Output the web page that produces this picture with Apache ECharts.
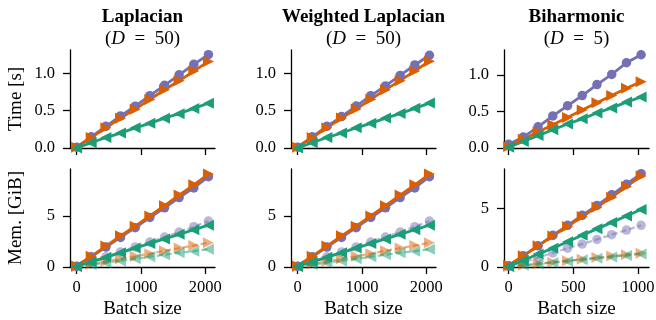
<!DOCTYPE html>
<html>
<head>
<meta charset="utf-8">
<script src="https://cdn.jsdelivr.net/npm/echarts@6/dist/echarts.min.js"></script>
<style>
html,body{margin:0;padding:0;background:#fff;}
#c{width:656px;height:320px;}
</style>
</head>
<body>
<div id="c"></div>
<script>
// ---- data ----
const xLap = [1, 228, 456, 683, 911, 1138, 1366, 1593, 1821, 2048];
const xBih = [1, 114, 228, 342, 456, 569, 683, 797, 911, 1024];

const titles = ["Laplacian", "Weighted Laplacian", "Biharmonic"];
const dimLabels = ["50", "50", "5"];
const rowLabels = ["Time [s]", "Mem. [GiB]"];

// Time [s]
const lapTimePurple = [0.01, 0.15, 0.29, 0.43, 0.56, 0.70, 0.84, 0.98, 1.12, 1.25];
const lapTimeOrange = [0.01, 0.14, 0.27, 0.40, 0.52, 0.65, 0.78, 0.90, 1.03, 1.16];
const lapTimeGreen  = [0.00, 0.07, 0.14, 0.20, 0.27, 0.33, 0.40, 0.46, 0.53, 0.60];

const wlapTimePurple = [0.01, 0.15, 0.29, 0.42, 0.56, 0.70, 0.83, 0.97, 1.11, 1.24];
const wlapTimeOrange = [0.01, 0.14, 0.27, 0.40, 0.52, 0.65, 0.78, 0.90, 1.03, 1.16];
const wlapTimeGreen  = [0.00, 0.07, 0.14, 0.20, 0.27, 0.33, 0.40, 0.46, 0.53, 0.60];

const bihTimePurple = [0.05, 0.15, 0.29, 0.44, 0.58, 0.72, 0.87, 1.01, 1.17, 1.28];
const bihTimeOrange = [0.02, 0.12, 0.22, 0.32, 0.42, 0.52, 0.62, 0.72, 0.82, 0.91];
const bihTimeGreen  = [0.01, 0.09, 0.17, 0.25, 0.33, 0.40, 0.48, 0.55, 0.63, 0.70];

// Memory [GiB] (solid)
const lapMemPurple = [0.08, 1.00, 1.95, 2.90, 3.85, 4.85, 5.80, 6.80, 7.75, 8.85];
const lapMemOrange = [0.10, 1.05, 2.05, 3.05, 4.00, 5.00, 6.00, 7.05, 8.05, 9.10];
const lapMemGreen  = [0.05, 0.50, 0.95, 1.40, 1.85, 2.30, 2.75, 3.20, 3.65, 4.10];
// Memory [GiB] (dashed, faded)
const lapMem2Purple = [0.05, 0.52, 1.00, 1.48, 1.97, 2.45, 2.93, 3.42, 3.95, 4.50];
const lapMem2Orange = [0.03, 0.30, 0.55, 0.80, 1.05, 1.30, 1.60, 1.85, 2.10, 2.37];
const lapMem2Green  = [0.02, 0.22, 0.42, 0.60, 0.80, 1.00, 1.20, 1.40, 1.55, 1.75];

const wlapMemPurple = [0.08, 1.00, 1.95, 2.90, 3.85, 4.85, 5.80, 6.80, 7.75, 8.85];
const wlapMemOrange = [0.10, 1.05, 2.05, 3.05, 4.00, 5.00, 6.00, 7.05, 8.05, 9.10];
const wlapMemGreen  = [0.05, 0.50, 0.95, 1.40, 1.85, 2.30, 2.75, 3.20, 3.65, 4.10];
const wlapMem2Purple = [0.05, 0.52, 1.00, 1.48, 1.97, 2.45, 2.93, 3.42, 3.95, 4.50];
const wlapMem2Orange = [0.03, 0.30, 0.55, 0.80, 1.05, 1.30, 1.60, 1.85, 2.10, 2.37];
const wlapMem2Green  = [0.02, 0.22, 0.42, 0.60, 0.80, 1.00, 1.20, 1.40, 1.55, 1.75];

const bihMemPurple = [0.10, 0.95, 1.80, 2.70, 3.55, 4.40, 5.25, 6.15, 7.05, 7.95];
const bihMemOrange = [0.15, 0.95, 1.80, 2.65, 3.45, 4.30, 5.10, 5.95, 6.85, 7.75];
const bihMemGreen  = [0.05, 0.55, 1.10, 1.60, 2.15, 2.70, 3.25, 3.80, 4.35, 4.90];
const bihMem2Purple = [0.05, 0.40, 0.80, 1.20, 1.60, 1.95, 2.35, 2.75, 3.15, 3.55];
const bihMem2Orange = [0.03, 0.15, 0.28, 0.41, 0.54, 0.67, 0.80, 0.93, 1.05, 1.18];
const bihMem2Green  = [0.02, 0.14, 0.26, 0.38, 0.50, 0.62, 0.74, 0.86, 0.98, 1.10];

const xTicksLap = [0, 1000, 2000];
const xTicksBih = [0, 500, 1000];
const yTicksTime = [0, 0.5, 1.0];
const yTicksMem = [0, 5];

// ---- layout / style ----
const PURPLE = '#7570b3', ORANGE = '#d95f02', GREEN = '#1b9e77';
const FONT = '"Liberation Serif", "DejaVu Serif", serif';
const colLeft = [70, 291, 504];
const colW = 145;
const rowTop = [50, 169];
const rowH = 98;
const xRange = [[-101, 2150], [-101, 2150], [-35, 1085]];
const yMax = [[1.3125, 1.31, 1.345], [9.6, 9.6, 8.35]];

const SYM_CIRCLE = 'circle';
const SYM_RIGHT = 'path://M0,0L10,5L0,10Z';
const SYM_LEFT = 'path://M10,0L0,5L10,10Z';

const grids = [], xAxes = [], yAxes = [], series = [];
for (let r = 0; r < 2; r++) {
  for (let c = 0; c < 3; c++) {
    const idx = r * 3 + c;
    grids.push({left: colLeft[c], top: rowTop[r], width: colW, height: rowH, outerBoundsMode: 'none', containLabel: false});
    const xt = c === 2 ? xTicksBih : xTicksLap;
    xAxes.push({
      type: 'value', gridIndex: idx, min: xRange[c][0], max: xRange[c][1],
      axisLine: {show: true, onZero: false, lineStyle: {color: '#000', width: 1.3}},
      axisTick: {show: true, length: 7, lineStyle: {color: '#000', width: 1.3}, customValues: xt},
      axisLabel: {show: r === 1, customValues: xt, fontFamily: FONT, fontSize: 16.5, color: '#000', margin: 12,
        formatter: v => String(Math.round(v))},
      splitLine: {show: false}
    });
    const yt = r === 0 ? yTicksTime : yTicksMem;
    yAxes.push({
      type: 'value', gridIndex: idx, min: 0, max: yMax[r][c],
      axisLine: {show: true, onZero: false, lineStyle: {color: '#000', width: 1.3}},
      axisTick: {show: true, length: 7, lineStyle: {color: '#000', width: 1.3}, customValues: yt},
      axisLabel: {show: true, customValues: yt, fontFamily: FONT, fontSize: 16.5, color: '#000', margin: 15,
        formatter: r === 0 ? (v => Number(v).toFixed(1)) : (v => String(Math.round(v)))},
      splitLine: {show: false}
    });
  }
}

function mk(idx, xs, ys, color, symbol, size, dashed) {
  const op = dashed ? 0.5 : 1;
  return {
    type: 'line', xAxisIndex: idx, yAxisIndex: idx,
    data: xs.map((x, i) => [x, ys[i]]),
    symbol: symbol, symbolSize: size, showSymbol: true, showAllSymbol: true,
    lineStyle: {color: color, width: dashed ? 2.2 : 2.8, type: dashed ? [6, 3] : 'solid', opacity: op},
    itemStyle: {color: color, opacity: op, borderWidth: 0},
    silent: true, animation: false, clip: false, z: dashed ? 2 : 3
  };
}

const timeSets = [
  [lapTimePurple, lapTimeOrange, lapTimeGreen],
  [wlapTimePurple, wlapTimeOrange, wlapTimeGreen],
  [bihTimePurple, bihTimeOrange, bihTimeGreen]
];
const memSets = [
  [lapMemPurple, lapMemOrange, lapMemGreen, lapMem2Purple, lapMem2Orange, lapMem2Green],
  [wlapMemPurple, wlapMemOrange, wlapMemGreen, wlapMem2Purple, wlapMem2Orange, wlapMem2Green],
  [bihMemPurple, bihMemOrange, bihMemGreen, bihMem2Purple, bihMem2Orange, bihMem2Green]
];
const cols = [PURPLE, ORANGE, GREEN];
const syms = [SYM_CIRCLE, SYM_RIGHT, SYM_LEFT];
const sizes = [9.5, 11, 11];

for (let c = 0; c < 3; c++) {
  const xs = c === 2 ? xBih : xLap;
  for (let k = 0; k < 3; k++) series.push(mk(c, xs, timeSets[c][k], cols[k], syms[k], sizes[k], false));
  for (let k = 0; k < 3; k++) series.push(mk(3 + c, xs, memSets[c][3 + k], cols[k], syms[k], sizes[k], true));
  for (let k = 0; k < 3; k++) series.push(mk(3 + c, xs, memSets[c][k], cols[k], syms[k], sizes[k], false));
}

const graphics = [];
for (let c = 0; c < 3; c++) {
  const cx = colLeft[c] + colW / 2;
  graphics.push({type: 'text', x: cx, y: 17, style: {text: titles[c], font: 'bold 19px ' + FONT, fill: '#000', align: 'center', verticalAlign: 'middle'}});
  graphics.push({type: 'text', x: cx, y: 39, style: {
    text: '{p|(}{d|D}{p|  =  ' + dimLabels[c] + ')}',
    rich: {p: {font: '19px ' + FONT, fill: '#000'}, d: {font: 'italic 19px ' + FONT, fill: '#000'}},
    align: 'center', verticalAlign: 'middle'}});
  graphics.push({type: 'text', x: cx, y: 309, style: {text: 'Batch size', font: '19px ' + FONT, fill: '#000', align: 'center', verticalAlign: 'middle'}});
}
for (let r = 0; r < 2; r++) {
  graphics.push({type: 'text', x: 16, y: rowTop[r] + rowH / 2, rotation: Math.PI / 2,
    style: {text: rowLabels[r], font: '19px ' + FONT, fill: '#000', align: 'center', verticalAlign: 'middle'}});
}

const chart = echarts.init(document.getElementById('c'), null, {renderer: 'canvas'});
chart.setOption({
  animation: false,
  backgroundColor: '#fff',
  grid: grids, xAxis: xAxes, yAxis: yAxes, series: series, graphic: graphics
});
</script>
</body>
</html>
